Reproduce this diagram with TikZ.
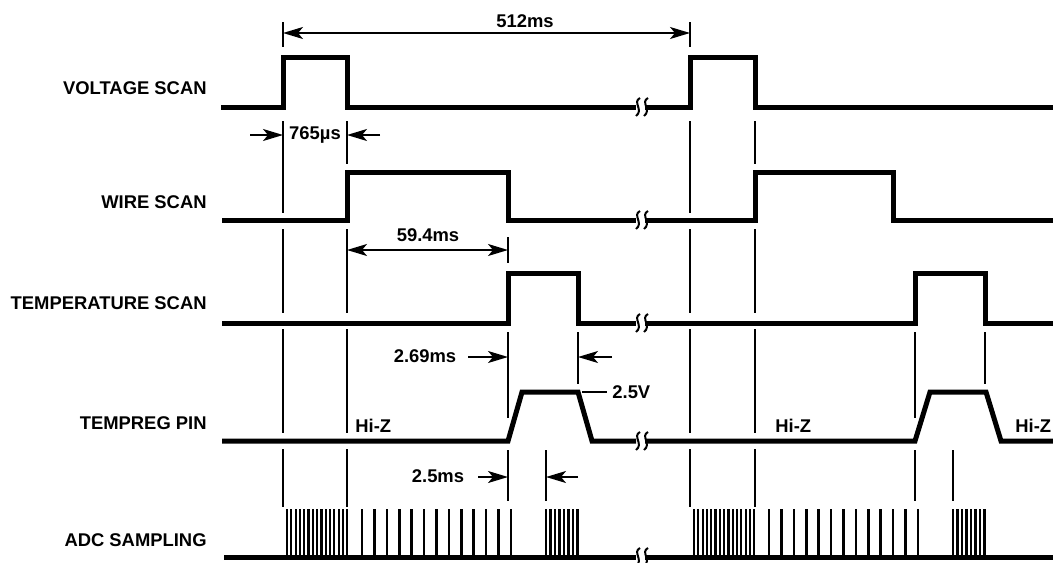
\documentclass[tikz,border=0pt]{standalone}
\usepackage{fontspec}
\setmainfont{Liberation Sans}
\usetikzlibrary{arrows.meta}

\tikzset{
  sig/.style={line width=2.5pt},
  guide/.style={line width=0.85pt},
  pulse/.style={line width=1.1pt},
  spulse/.style={line width=1.3pt},
  brk/.style={line width=1pt},
  dim/.style={line width=0.8pt,-{Stealth[length=10pt,width=6pt,inset=2.5pt]}},
  dimb/.style={line width=0.8pt,{Stealth[length=10pt,width=6pt,inset=2.5pt]}-{Stealth[length=10pt,width=6pt,inset=2.5pt]}},
  lbl/.style={font=\fontsize{9.2}{11}\selectfont\bfseries,inner sep=0pt},
}

\begin{document}
\begin{tikzpicture}[x=0.5pt,y=-0.5pt]
\useasboundingbox (0,0) rectangle (1053,562);

% row names
\node[lbl,anchor=east] (volt) at (207,88) {VOLTAGE SCAN};
\node[lbl,anchor=east] (wire) at (207,202) {WIRE SCAN};
\node[lbl,anchor=east] (temp) at (207,303) {TEMPERATURE SCAN};
\node[lbl,anchor=east] (treg) at (207,423) {TEMPREG PIN};
\node[lbl,anchor=east] (adc) at (207,540) {ADC SAMPLING};

% voltage scan
\draw[sig] (221,107) -- (283,107) -- (283,57) -- (347,57) -- (347,107) -- (636,107);
\draw[sig] (645,107) -- (690,107) -- (690,57) -- (755,57) -- (755,107) -- (1053,107);
% wire scan
\draw[sig] (222,220) -- (347,220) -- (347,172) -- (508,172) -- (508,220) -- (636,220);
\draw[sig] (645,220) -- (755,220) -- (755,172) -- (893,172) -- (893,220) -- (1053,220);
% temperature scan
\draw[sig] (222,323) -- (508,323) -- (508,273) -- (578,273) -- (578,323) -- (636,323);
\draw[sig] (645,323) -- (915,323) -- (915,273) -- (985,273) -- (985,323) -- (1053,323);
% tempreg pin
\draw[sig] (222,441) -- (508,441) -- (522,392) -- (578,392) -- (592,441) -- (636,441);
\draw[sig] (645,441) -- (915,441) -- (930,392) -- (986,392) -- (1001,441) -- (1053,441);
% adc sampling
\draw[sig] (224,557) -- (636,557);
\draw[sig] (645,557) -- (1053,557);

% break marks
\foreach \y in {107,220,323,441,557} {
  \draw[brk] (640,\y-9) .. controls (632,\y-5) and (644,\y+3) .. (636,\y+9);
  \draw[brk] (648,\y-9) .. controls (640,\y-5) and (652,\y+3) .. (644,\y+9);
}

% sample pulses, both cycles
\foreach \o in {0,407} {
  \foreach \k in {0,...,14} \draw[pulse] ({287+\o+4.3*\k},509) -- ({287+\o+4.3*\k},557);
  \foreach \k in {0,...,12} \draw[spulse] ({362+\o+12.4*\k},509) -- ({362+\o+12.4*\k},557);
  \foreach \k in {0,...,7} \draw[pulse] ({546+\o+4.5*\k},509) -- ({546+\o+4.5*\k},557);
}

% guide lines
\foreach \x in {283,690} {
  \draw[guide] (\x,121) -- (\x,213);
}
\foreach \x in {347,755} {
  \draw[guide] (\x,121) -- (\x,164);
}
\foreach \x in {283,347,690,755} {
  \draw[guide] (\x,229) -- (\x,313);
  \draw[guide] (\x,329) -- (\x,433);
  \draw[guide] (\x,449) -- (\x,507);
}
\foreach \x in {508,915} {
  \draw[guide] (\x,332) -- (\x,418);
  \draw[guide] (\x,450) -- (\x,501);
}
\foreach \x in {578,985} {
  \draw[guide] (\x,332) -- (\x,384);
}
\foreach \x in {546,953} {
  \draw[guide] (\x,450) -- (\x,501);
}

% period
\draw[guide] (283,22) -- (283,47);
\draw[guide] (690,22) -- (690,47);
\draw[dimb] (283,33) -- (690,33);
\node[lbl] (period) at (525,21) {512ms};

% voltage pulse width
\draw[dim] (250,135) -- (283,135);
\draw[dim] (380,135) -- (347,135);
\node[lbl] (vwidth) at (315,135) {765µs};

% wire scan width
\draw[guide] (508,237) -- (508,263);
\draw[dimb] (347,250) -- (508,250);
\node[lbl] (wwidth) at (428,235) {59.4ms};

% temperature scan width
\draw[dim] (468,357) -- (508,357);
\draw[dim] (612,357) -- (578,357);
\node[lbl] (twidth) at (425,356) {2.69ms};

% tempreg level and sampling window
\draw[guide] (582,392) -- (607,392);
\node[lbl,anchor=west] (level) at (612,392) {2.5V};
\draw[dim] (478,477) -- (508,477);
\draw[dim] (578,477) -- (546,477);
\node[lbl] (swidth) at (438,476) {2.5ms};

% hi-z labels
\node[lbl,anchor=west] (hiz1) at (355,426) {Hi-Z};
\node[lbl,anchor=west] (hiz2) at (775,426) {Hi-Z};
\node[lbl,anchor=west] (hiz3) at (1015,426) {Hi-Z};
\end{tikzpicture}
\end{document}
